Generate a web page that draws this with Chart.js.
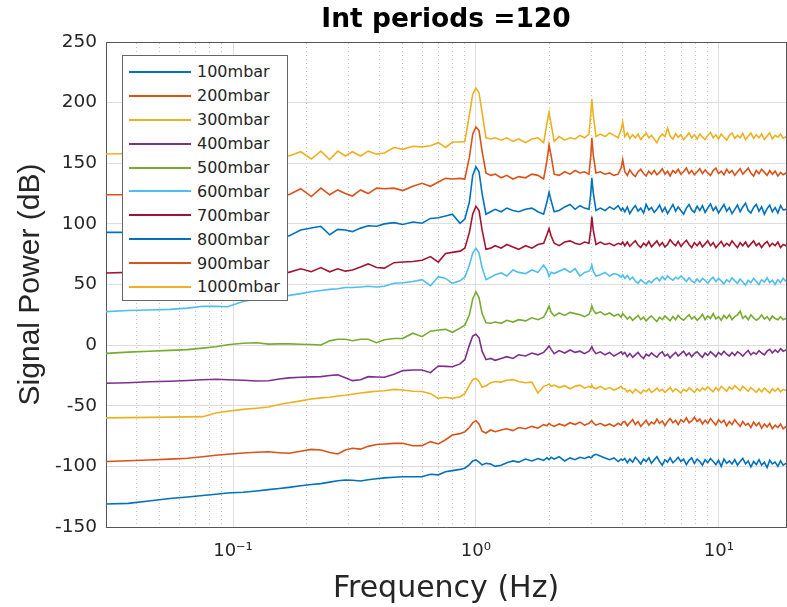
<!DOCTYPE html>
<html>
<head>
<meta charset="utf-8">
<script src="https://cdn.jsdelivr.net/npm/chart.js@4.4.1/dist/chart.umd.min.js"></script>
<style>
  body { margin: 0; background: #fff; }
  #wrap { position: relative; width: 787px; height: 607px; }
  #legend {
    position: absolute; left: 122px; top: 55px; width: 166px; height: 246px;
    box-sizing: border-box; border: 1px solid #666; background: #fff; padding-top: 4px;
    font-family: "DejaVu Sans", sans-serif; font-size: 16px; color: #262626;
  }
  .row { display: flex; align-items: center; height: 23.9px; }
  .swatch { margin-left: 6px; width: 62px; height: 2px; }
  .txt { margin-left: 6px; white-space: nowrap; }
</style>
</head>
<body>
<div id="wrap">
  <canvas id="chart" width="787" height="607"></canvas>
  <div id="legend"></div>
</div>
<script>
// frequency axis (Hz), shared by every trace
const freqs = [0.03, 0.037, 0.045, 0.055, 0.065, 0.075, 0.085, 0.095, 0.11, 0.125, 0.14, 0.155, 0.17,
  0.19, 0.21, 0.23, 0.25, 0.27, 0.29, 0.31, 0.335, 0.36, 0.39, 0.42, 0.46, 0.5, 0.55, 0.6, 0.65, 0.7, 0.75, 0.8, 0.86,
  0.9, 0.94, 0.97, 1.0, 1.03, 1.06, 1.1, 1.15, 1.2,
  1.27, 1.34, 1.42, 1.5, 1.6, 1.7, 1.8, 1.9, 1.96, 2.0,
  2.04, 2.1, 2.2, 2.32, 2.44, 2.56, 2.68, 2.8, 2.92, 2.97,
  3.0, 3.04, 3.12, 3.25, 3.4, 3.55, 3.7, 3.85, 3.96, 4.02,
  4.1, 4.2, 4.3, 4.42, 4.53, 4.65, 4.77, 4.9, 5.02, 5.15,
  5.28, 5.42, 5.56, 5.7, 5.85, 6.0, 6.15, 6.3, 6.47, 6.64,
  6.8, 6.98, 7.16, 7.35, 7.54, 7.73, 7.93, 8.14, 8.35, 8.56,
  8.78, 9.0, 9.24, 9.48, 9.72, 9.97, 10.23, 10.5, 10.77, 11.05,
  11.33, 11.63, 11.93, 12.24, 12.55, 12.88, 13.21, 13.55, 13.9, 14.26,
  14.63, 15.0, 15.4, 15.8, 16.2, 16.6, 17.05, 17.5, 17.95, 18.4,
  18.9];

const p100 = [-131, -130.5, -128.5, -126.5, -125.3, -124, -123, -122, -121.4, -120.3, -119.2, -118.2, -117.3,
  -116, -115, -114.2, -113, -111.8, -111.2, -111.5, -112, -111, -110.2, -109.5, -109, -108.5, -108.5, -108.5, -106.5, -107, -104.5, -103.5, -102.5,
  -101.5, -98.5, -95.5, -94.7, -96.5, -98.8, -97.5, -98, -100,
  -99, -97, -95.5, -96.5, -94, -95.5, -93.5, -95, -93, -94.5,
  -92.5, -94, -92, -95.5, -93, -94.5, -92.5, -93.5, -92, -93,
  -92.5, -91, -90, -91.5, -93, -94.5, -93, -96, -94, -95,
  -93.5, -97, -94, -96.5, -92.5, -95, -98, -94, -96, -93,
  -97.5, -94.5, -92, -96, -99, -94.5, -96.5, -93, -97, -95,
  -92.5, -96, -94, -98.5, -95, -93, -97.5, -94, -96, -99,
  -94.5, -97, -93.5, -96, -98.5, -95, -100, -94, -97.5, -95.5,
  -98, -94.5, -99, -96, -93.5, -98, -95.5, -100.5, -96, -98.5,
  -94.5, -99, -96.5, -101, -95, -98, -96.5, -100, -95.5, -99,
  -97.5];

const p200 = [-96, -95.4, -94.8, -94, -93.3, -92, -90.8, -90, -89, -88.3, -88, -88.7, -89.2,
  -87.5, -86, -86.5, -88.5, -89.8, -86.5, -85, -85.8, -83.5, -82, -81.5, -81, -81, -83, -82.9, -79.6, -81.5, -78, -74.1, -73,
  -71.4, -68, -64, -62.3, -65, -71, -72.5, -70, -71.4,
  -70, -69, -70.5, -68, -69, -67, -68.5, -65.5, -66.5, -64.5,
  -66, -67, -65, -66.5, -64, -65.5, -63.5, -66, -64.5, -63,
  -62.5, -64, -66, -64.5, -66.5, -65, -67, -64.5, -66, -63.5,
  -63, -66.5, -64, -61.5, -65.5, -63, -67, -64.5, -62, -66,
  -63.5, -65, -61, -64.5, -62.5, -66.5, -63, -60.5, -64, -62,
  -65.5, -61.5, -63.5, -60, -64, -62.5, -59.5, -63, -61, -65,
  -62, -64.5, -60.5, -63.5, -66, -61.5, -64, -62, -66.5, -63,
  -65.5, -61.5, -64.5, -67, -63, -66, -64.5, -68, -63.5, -66.5,
  -64, -68.5, -65, -67.5, -64.5, -69, -66, -68, -65, -69,
  -67];

const p300 = [-60, -59.8, -59.6, -59.4, -59.2, -59, -56, -54.5, -53, -52, -51, -49, -47.5,
  -46, -44.5, -43.5, -43, -42, -41.3, -40.5, -39.5, -38.8, -38, -37.6, -36.5, -37, -38, -38.3, -40, -43.9, -43, -43.9, -42.5,
  -40, -33, -28.5, -27.4, -30, -34.8, -33.5, -31, -30,
  -30.5, -29, -28.5, -30, -31, -30.5, -39.5, -34, -33, -32,
  -34, -33, -35, -33.5, -36, -34, -33, -35.5, -34, -35,
  -33, -35, -36, -34, -36.5, -35, -37, -35.5, -34, -36,
  -36, -38.5, -37, -39.5, -36.5, -38, -40, -37, -38.5, -36,
  -39, -37.5, -35.5, -38, -36.5, -39, -37, -35, -38.5, -36,
  -37.5, -39.5, -36.5, -38, -35.5, -37, -39, -36, -38, -35.5,
  -37, -34.5, -36.5, -38.5, -35, -37.5, -34, -36, -38, -34.5,
  -36.5, -33.5, -35.5, -37.5, -34, -36, -38, -35, -37, -39,
  -36, -38.5, -35.5, -37.5, -39.5, -36, -38, -35.5, -38.5, -36.5,
  -37.5];

const p400 = [-31.5, -31, -30.2, -29.8, -29.2, -28.5, -28.2, -28.6, -29, -29.6, -29.4, -28, -27,
  -26.5, -26.2, -26, -25, -24.5, -27, -29.3, -28.5, -26, -26.3, -26.5, -24, -21, -20.5, -20.5, -22.7, -17.2, -17.5, -17.8, -15.5,
  -12, 0, 7.5, 9, 6, -5, -12, -11, -12.5,
  -11, -9.5, -11, -8, -9, -6.5, -8, -6, -3, -0.7,
  -3.5, -7, -4.5, -6.5, -4, -6, -5, -7, -5, -3,
  -1.3, -4, -7, -5.5, -8, -6, -9, -7, -5.5, -7.5,
  -6, -9.5, -7, -10, -8, -6, -9, -11, -7.5, -9,
  -6.5, -8.5, -10, -7, -5.5, -9, -7.5, -10.5, -8, -6,
  -9, -7, -5, -8.5, -6.5, -9.5, -7, -5.5, -8, -10,
  -6.5, -8.5, -5.5, -7.5, -9.5, -6, -8, -5, -7.5, -9,
  -6, -8.5, -5.5, -7, -9, -6.5, -4.5, -8, -6, -7.5,
  -4.5, -6.5, -8, -5, -3.5, -6.5, -4, -6, -3, -5,
  -4];

const p500 = [-6.8, -5.8, -5, -4.3, -3.7, -2.5, -1.3, 0.3, 1.5, 2, 0.8, 1, 1,
  0.7, 0.5, 0.1, 3.5, 4.8, 4.8, 3.6, 4.8, 4.8, 2, 4.5, 5.5, 5.6, 9.8, 7, 11.5, 12.5, 13, 10.6, 14,
  16.5, 25, 38, 44, 39, 26, 18.5, 18, 19,
  18, 20.5, 19, 21, 20, 22.5, 21, 23, 28, 32.3,
  27, 24, 26.5, 24.5, 27, 26, 25, 23.5, 25.5, 29,
  32.3, 29, 26, 27.5, 25, 26.5, 24, 25.5, 23, 26,
  24, 21.5, 23.5, 20.5, 22.5, 24.5, 21, 23, 20, 22.5,
  24, 21.5, 19.5, 23, 21, 24, 22, 20, 23.5, 21,
  24.5, 22, 20.5, 23, 25, 21.5, 23.5, 20.5, 22.5, 25.5,
  21, 24, 22, 26, 21.5, 23.5, 20.5, 24.5, 22, 25,
  21, 23.5, 25, 28, 22, 24, 21, 25, 22.5, 20.5,
  22, 25, 21.5, 23.5, 20.5, 24, 22, 21, 23.5, 21,
  22];

const p600 = [27.6, 28.5, 29, 29.5, 30.5, 32, 32, 31.7, 36, 38, 39, 40, 41,
  42.5, 44, 45, 46, 46.5, 47.5, 47.5, 48, 48.5, 48, 48.5, 51, 51.5, 52.5, 54, 49, 56.5, 55, 51, 53,
  56, 66, 76, 80, 76, 64, 54, 56, 58,
  59.5, 57, 62, 60, 59, 62, 60, 66, 62, 56.5,
  60, 59, 61, 63, 60, 63, 57, 60, 61, 63,
  66, 61, 57, 58, 60, 57, 59, 58, 56, 58,
  55, 57.5, 54, 56, 53, 51, 54, 52, 50.5, 53,
  51.5, 54, 55.5, 53, 56.5, 54, 57, 55, 53.5, 56,
  54.5, 57, 55, 52.5, 55.5, 53, 51.5, 54.5, 52, 55,
  53.5, 51, 54, 56, 52.5, 55, 53, 50.5, 54, 52,
  55.5, 53, 51, 54.5, 52, 49.5, 53.5, 51.5, 55, 52.5,
  50, 54, 52, 55.5, 51.5, 53.5, 50, 54, 51.5, 55,
  52.5];

const p700 = [59.5, 60, 61, 60, 61, 62, 61, 62, 61, 62, 61, 60, 60,
  63, 60.5, 64, 60.5, 63, 61, 62, 64.5, 67, 64, 63.5, 68, 68.5, 69, 70, 73, 68.5, 75.5, 76.5, 77.5,
  80, 93, 108, 114.5, 111, 95, 79, 80, 82,
  80, 83, 81, 79, 82, 80, 83, 84, 91, 96,
  90, 84, 82, 85, 86, 84, 83, 85, 84, 95,
  106, 95, 83, 85, 83, 84, 82, 84, 83, 85,
  82, 85, 81.5, 84, 86, 82.5, 80.5, 84, 82, 85.5,
  81, 83.5, 86, 82, 84.5, 81, 83, 87, 84, 82,
  85.5, 81.5, 84, 86.5, 83, 80.5, 84.5, 82, 85, 81,
  83.5, 86, 82, 84.5, 80.5, 83, 85.5, 81.5, 84, 82,
  86, 83, 80.5, 84.5, 82, 85, 81, 83.5, 86, 82,
  84, 80.5, 83.5, 85.5, 81.5, 84, 82, 85, 80.5, 83,
  82];

const p800 = [93, 93, 94, 93, 94, 93, 95, 94, 93, 95, 93, 92, 90,
  95, 96.6, 98, 91, 95.5, 95, 93.6, 96.5, 98.5, 98, 100, 101, 99.5, 101.5, 100.5, 104.5, 105, 106.5, 108, 100.5,
  104, 118, 140, 147, 143, 125, 108, 110, 112,
  110, 113, 111, 110, 112, 113, 110, 108, 118, 126,
  119, 110, 111, 114, 116, 112, 115, 113, 112, 125,
  138, 126, 111, 113, 111, 114, 112, 115, 111, 113,
  110, 114, 108.5, 112.5, 115, 110.5, 113, 109, 116, 111.5,
  113.5, 109.5, 112, 115.5, 110, 113.5, 108.5, 112, 116, 110.5,
  114, 111, 108, 113, 116, 111.5, 109.5, 114.5, 111, 115,
  109.5, 113, 116.5, 111, 114, 109, 112.5, 116, 110.5, 113.5,
  108.5, 112, 115.5, 110, 114, 117, 111, 109, 113.5, 116,
  110.5, 114, 108, 112.5, 115.5, 110, 113.5, 109, 115, 111.5,
  112];

const p900 = [124, 124, 125, 124, 126, 125, 126, 125, 127, 125, 127, 125, 124,
  129, 122.5, 129.5, 124, 128, 125, 123, 128, 125, 129.5, 129, 129.5, 127.5, 131, 133.5, 131, 134.5, 137.5, 137, 137.5,
  137, 155, 174, 180, 177, 160, 142, 140, 141,
  138, 140, 137, 139, 138, 141, 140, 137, 152, 165,
  156, 141, 140, 143, 141, 144, 142, 143, 141, 156,
  171, 157, 142, 143, 141, 142, 140, 141, 146, 153,
  143, 140, 144.5, 141, 139, 143, 145, 141.5, 139.5, 143.5,
  141, 144, 140.5, 142.5, 145.5, 141, 143.5, 139.5, 144, 142,
  145, 141, 143, 146, 141.5, 144, 140.5, 143, 145.5, 141.5,
  144.5, 142, 140, 144, 146, 141.5, 143.5, 140.5, 145, 142,
  144, 140, 143, 145.5, 141, 143.5, 146, 142, 139.5, 144,
  141.5, 145, 142.5, 140, 144, 141, 143.5, 139.5, 142.5, 140.5,
  142];

const p1000 = [157.6, 158, 156, 158, 157, 159, 157, 158, 156, 158, 156, 158, 156,
  159.5, 153.5, 160, 153, 160, 156, 159.5, 156, 160, 157.5, 158.5, 163, 161.5, 164, 163.5, 164.5, 167, 163, 167.5, 167.5,
  168, 190, 207, 212, 208, 192, 171, 170, 171,
  169, 171, 168, 170, 167, 170, 171, 167, 183, 192,
  182, 168, 172, 169, 171, 170, 173, 171, 174, 190,
  203, 190, 172, 174, 172, 175, 173, 171, 178, 184,
  172, 175, 170.5, 173.5, 171, 174, 169.5, 172.5, 175, 171,
  173, 170, 167, 171.5, 174, 172, 179, 172.5, 170, 174.5,
  171.5, 173.5, 169.5, 172, 175, 171, 173.5, 170, 174, 171.5,
  169.5, 173, 175.5, 171, 173.5, 170, 174, 171.5, 169, 173,
  175, 170.5, 173, 171, 174.5, 169.5, 172.5, 175, 170.5, 173.5,
  171, 174, 169.5, 172.5, 175, 170, 173, 171.5, 174, 170.5,
  172];

const series = [p100, p200, p300, p400, p500, p600, p700, p800, p900, p1000];
const seriesLabels = ['100mbar', '200mbar', '300mbar', '400mbar', '500mbar',
  '600mbar', '700mbar', '800mbar', '900mbar', '1000mbar'];
const seriesColors = ['#0072BD', '#D95319', '#EDB120', '#7E2F8E', '#77AC30',
  '#4DBEEE', '#A2142F', '#0072BD', '#D95319', '#EDB120'];

const majorTicks = [0.1, 1, 10];
const majorLabels = ['10\u207B\u00B9', '10\u2070', '10\u00B9'];
const minorTicks = [0.03, 0.04, 0.05, 0.06, 0.07, 0.08, 0.09,
  0.2, 0.3, 0.4, 0.5, 0.6, 0.7, 0.8, 0.9,
  2, 3, 4, 5, 6, 7, 8, 9];
const yTicks = [-150, -100, -50, 0, 50, 100, 150, 200, 250];

const FONT = '"DejaVu Sans", sans-serif';
const TEXT = '#262626';
const AXIS = '#555555';
const GRID = '#dedede';

const ctx = document.getElementById('chart').getContext('2d');
const chart = new Chart(ctx, {
  type: 'line',
  data: {
    datasets: series.map((vals, i) => ({
      label: seriesLabels[i],
      data: vals.map((v, j) => ({ x: freqs[j], y: v })),
      borderColor: seriesColors[i],
      borderWidth: 1.6,
      pointRadius: 0,
      tension: 0,
      fill: false
    }))
  },
  options: {
    responsive: false,
    animation: false,
    devicePixelRatio: 1,
    layout: { padding: { left: 0, right: 1, top: 0, bottom: 0 } },
    plugins: {
      legend: { display: false },
      tooltip: { enabled: false },
      title: { display: false }
    },
    scales: {
      x: {
        type: 'logarithmic',
        position: 'bottom',
        min: 0.03,
        max: 18.9,
        afterBuildTicks: s => { s.ticks = majorTicks.map(v => ({ value: v })); },
        afterFit: s => { s.height = 80; },
        ticks: {
          autoSkip: false,
          maxRotation: 0,
          padding: 14,
          color: TEXT,
          font: { family: FONT, size: 18 },
          callback: (v, i) => majorLabels[i]
        },
        grid: { color: GRID, drawTicks: false },
        border: { color: AXIS },
        title: {
          display: true,
          text: 'Frequency (Hz)',
          color: TEXT,
          font: { family: FONT, size: 30 },
          padding: { top: 0, bottom: 0 }
        }
      },
      // top axis: minor dotted grid, box edge and the chart title centred on the plot
      xMinor: {
        type: 'logarithmic',
        position: 'top',
        min: 0.03,
        max: 18.9,
        afterBuildTicks: s => { s.ticks = minorTicks.map(v => ({ value: v })); },
        afterFit: s => { s.height = 42; },
        ticks: { display: false },
        grid: { color: '#c4c4c4', drawTicks: false },
        border: { display: true, color: AXIS, dash: [1, 3] },
        title: {
          display: true,
          text: 'Int periods =120',
          color: '#000',
          font: { family: FONT, size: 26.5, weight: 'bold' },
          padding: { top: 4, bottom: 6 }
        }
      },
      y: {
        type: 'linear',
        position: 'left',
        min: -150,
        max: 250,
        afterBuildTicks: s => { s.ticks = yTicks.map(v => ({ value: v })); },
        afterFit: s => { s.width = 106; },
        ticks: {
          padding: 9,
          color: TEXT,
          font: { family: FONT, size: 18.5 }
        },
        grid: { color: GRID, drawTicks: false },
        border: { color: AXIS },
        title: {
          display: true,
          text: 'Signal Power (dB)',
          color: TEXT,
          font: { family: '"Liberation Sans", Arial, sans-serif', size: 30 },
          padding: { top: 13, bottom: 0 }
        }
      },
      y2: {
        type: 'linear',
        position: 'right',
        min: -150,
        max: 250,
        afterFit: s => { s.width = 0; },
        ticks: { display: false },
        grid: { display: false, drawTicks: false },
        border: { display: true, color: AXIS }
      }
    }
  }
});

// legend box drawn over the plot, built from the chart's datasets
const legend = document.getElementById('legend');
chart.data.datasets.forEach(ds => {
  const row = document.createElement('div');
  row.className = 'row';
  const sw = document.createElement('span');
  sw.className = 'swatch';
  sw.style.background = ds.borderColor;
  const txt = document.createElement('span');
  txt.className = 'txt';
  txt.textContent = ds.label;
  row.appendChild(sw);
  row.appendChild(txt);
  legend.appendChild(row);
});
</script>
</body>
</html>
